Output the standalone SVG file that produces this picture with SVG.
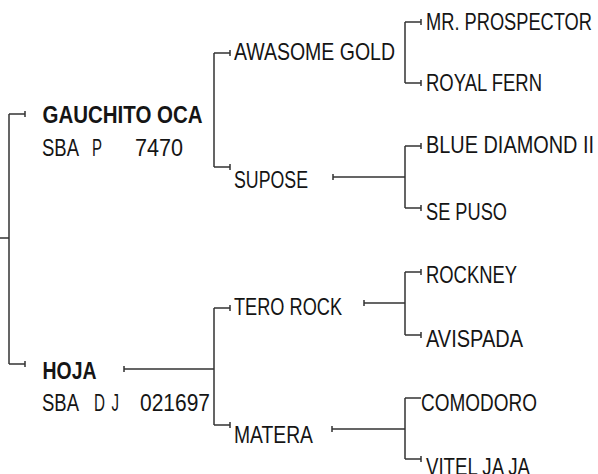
<svg xmlns="http://www.w3.org/2000/svg" width="598" height="474" viewBox="0 0 598 474">
<style>
.t{font-family:"Liberation Sans",Arial,sans-serif;font-size:24.5px;fill:#151515}
.b{font-weight:bold}
.c{fill:none;stroke:#333;stroke-width:1.5}
</style>
<rect width="598" height="474" fill="#fff"/>
<g id="connectors" class="c">
<path d="M0,238H9M9,114V364M9,114H25M25,111V117M9,364H25M25,361V367"/>
<path d="M214,53V167M214,53H230M230,50V56M214,167H230M230,164V170"/>
<path d="M214,308V425M214,308H230M230,305V311M214,425H230M230,422V428M124,369H214M124,366V372"/>
<path d="M405,22V83M405,22H421M421,19V25M405,83H421M421,80V86"/>
<path d="M333,177H405M333,174V180M405,146V208M405,146H421M421,143V149M405,208H421M421,205V211"/>
<path d="M364,303H405M364,300V306M405,272V335M405,272H421M421,269V275M405,335H421M421,332V338"/>
<path d="M332,429H405M332,426V432M405,398V459M405,398H421M405,459H421M421,456V462"/>
</g>
<g id="n1"><text class="t" x="426" y="30" textLength="166" lengthAdjust="spacingAndGlyphs">MR. PROSPECTOR</text></g>
<g id="n2"><text class="t" x="426" y="91" textLength="116" lengthAdjust="spacingAndGlyphs">ROYAL FERN</text></g>
<g id="n3"><text class="t" x="234" y="60" textLength="161" lengthAdjust="spacingAndGlyphs">AWASOME GOLD</text></g>
<g id="n4"><text class="t b" x="42.5" y="123" textLength="160" lengthAdjust="spacingAndGlyphs">GAUCHITO OCA</text>
<text class="t"><tspan x="42" y="156" textLength="37" lengthAdjust="spacingAndGlyphs">SBA</tspan><tspan x="92" y="156" textLength="10" lengthAdjust="spacingAndGlyphs">P</tspan><tspan x="135" y="156" textLength="48" lengthAdjust="spacingAndGlyphs">7470</tspan></text></g>
<g id="n5"><text class="t" x="426" y="153" textLength="168" lengthAdjust="spacingAndGlyphs">BLUE DIAMOND II</text></g>
<g id="n6"><text class="t" x="234" y="188" textLength="74" lengthAdjust="spacingAndGlyphs">SUPOSE</text></g>
<g id="n7"><text class="t" x="426" y="220" textLength="81" lengthAdjust="spacingAndGlyphs">SE PUSO</text></g>
<g id="n8"><text class="t" x="426" y="283" textLength="91" lengthAdjust="spacingAndGlyphs">ROCKNEY</text></g>
<g id="n9"><text class="t" x="234" y="315" textLength="108" lengthAdjust="spacingAndGlyphs">TERO ROCK</text></g>
<g id="n10"><text class="t" x="426" y="347" textLength="97" lengthAdjust="spacingAndGlyphs">AVISPADA</text></g>
<g id="n11"><text class="t b" x="42.5" y="379" textLength="54" lengthAdjust="spacingAndGlyphs">HOJA</text>
<text class="t"><tspan x="42" y="411" textLength="37" lengthAdjust="spacingAndGlyphs">SBA</tspan><tspan x="94" y="411" textLength="11" lengthAdjust="spacingAndGlyphs">D</tspan><tspan x="111.5" y="411" textLength="7.5" lengthAdjust="spacingAndGlyphs">J</tspan><tspan x="140" y="411" textLength="70" lengthAdjust="spacingAndGlyphs">021697</tspan></text></g>
<g id="n12"><text class="t" x="421" y="411" textLength="116" lengthAdjust="spacingAndGlyphs">COMODORO</text></g>
<g id="n13"><text class="t" x="234" y="443" textLength="79" lengthAdjust="spacingAndGlyphs">MATERA</text></g>
<g id="n14"><text class="t" x="426" y="475" textLength="104" lengthAdjust="spacingAndGlyphs">VITEL JA JA</text></g>
</svg>
